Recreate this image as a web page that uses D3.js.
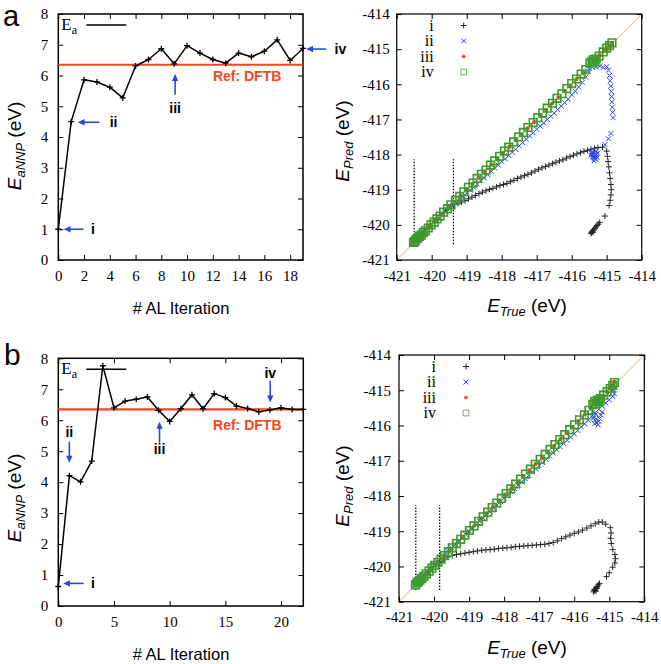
<!DOCTYPE html>
<html><head><meta charset="utf-8">
<script src="https://cdn.jsdelivr.net/npm/d3@7"></script>
<style>body{margin:0;background:#fff}</style>
</head><body><svg id="c" width="661" height="664" xmlns="http://www.w3.org/2000/svg"></svg>
<script>
// ---------------- DATA ----------------
const iterA = [0,1,2,3,4,5,6,7,8,9,10,11,12,13,14,15,16,17,18,19];
const eaA   = [1.0,4.5,5.86,5.79,5.62,5.27,6.31,6.52,6.87,6.38,6.97,6.73,6.52,6.4,6.73,6.61,6.79,7.16,6.49,6.88];
const iterB = [0,1,2,3,4,5,6,7,8,9,10,11,12,13,14,15,16,17,18,19,20,21,22];
const eaB   = [0.63,4.21,4.01,4.68,7.76,6.4,6.62,6.68,6.75,6.32,5.96,6.37,6.82,6.37,6.86,6.73,6.46,6.38,6.27,6.33,6.4,6.35,6.35];
const refDFTB = 6.35;
const xTicksA = [0,2,4,6,8,10,12,14,16,18];
const xTicksB = [0,5,10,15,20];
const yTicksE = [0,1,2,3,4,5,6,7,8];
const eTicks = [-421,-420,-419,-418,-417,-416,-415,-414];
const legendNames = ['i','ii','iii','iv'];

// annotations in data units: from, to, label position
const annA = [
  {t:'i',   from:[1.96,1.0],  to:[0.41,1.0],  lab:[2.69,1.0]},
  {t:'ii',  from:[3.2,4.48],  to:[1.5,4.48],  lab:[4.29,4.48]},
  {t:'iii', from:[9.07,5.37], to:[9.07,6.05], lab:[9.07,4.95]},
  {t:'iv',  from:[20.8,6.86], to:[19.24,6.86],lab:[21.9,6.86]}
];
const annB = [
  {t:'i',   from:[2.27,0.73], to:[0.42,0.73], lab:[3.11,0.73]},
  {t:'ii',  from:[0.99,5.31], to:[0.99,4.63], lab:[0.99,5.63]},
  {t:'iii', from:[9.09,5.27], to:[9.09,5.95], lab:[9.09,5.08]},
  {t:'iv',  from:[19.03,7.27],to:[19.03,6.57],lab:[19.03,7.53]}
];
const refLabA = [14.66, 5.98];
const refLabB = [16.97, 5.85];

// vertical dotted lines in scatter panels: [x, yLow, yHigh]
const dotsA = [[-420.5,-420.55,-418.13],[-419.38,-420.55,-418.13]];
const dotsB = [[-420.52,-420.67,-418.26],[-419.84,-420.67,-418.26]];

// scatter series, panel a  [E_true, E_pred]
const scA_i = [[-420.50,-420.48],[-420.35,-420.33],[-420.20,-420.19],[-420.05,-420.03],[-419.90,-419.88],[-419.75,-419.74],[-419.60,-419.59],[-419.45,-419.46],
 [-419.35,-419.42],[-419.25,-419.39],[-419.15,-419.35],[-419.05,-419.31],[-418.95,-419.26],[-418.85,-419.21],[-418.75,-419.16],[-418.65,-419.11],[-418.55,-419.07],[-418.45,-419.03],[-418.35,-418.99],[-418.25,-418.96],[-418.15,-418.92],[-418.05,-418.88],[-417.95,-418.85],[-417.85,-418.82],[-417.75,-418.77],[-417.65,-418.73],[-417.55,-418.68],[-417.45,-418.64],[-417.35,-418.60],[-417.25,-418.56],[-417.15,-418.52],[-417.05,-418.47],[-416.95,-418.42],[-416.85,-418.38],[-416.75,-418.34],[-416.65,-418.30],[-416.55,-418.26],[-416.45,-418.22],[-416.35,-418.18],[-416.25,-418.15],[-416.15,-418.10],[-416.05,-418.06],[-415.95,-418.02],[-415.85,-417.98],[-415.75,-417.95],[-415.65,-417.91],[-415.55,-417.88],[-415.45,-417.85],[-415.35,-417.82],[-415.25,-417.80],[-415.12,-417.79],
 [-415.00,-417.90],[-414.98,-418.05],[-414.96,-418.20],[-414.94,-418.35],[-414.92,-418.52],[-414.90,-418.68],[-414.88,-418.85],[-414.87,-419.00],[-414.88,-419.15],[-414.90,-419.30],[-414.93,-419.45],[-415.05,-419.75],
 [-415.45,-420.24],[-415.42,-420.20],[-415.40,-420.17],[-415.37,-420.14],[-415.34,-420.10],[-415.31,-420.06],[-415.28,-420.02],[-415.24,-419.98],[-415.20,-419.93],[-415.43,-420.22],[-415.39,-420.21]];
const scA_ii = [[-420.50,-420.42],[-420.40,-420.33],[-420.30,-420.24],[-420.20,-420.15],[-420.10,-420.06],[-420.00,-419.97],[-419.90,-419.88],[-419.80,-419.80],[-419.70,-419.71],[-419.60,-419.63],[-419.50,-419.54],[-419.40,-419.46],[-419.30,-419.37],[-419.20,-419.28],[-419.10,-419.19],[-419.00,-419.10],[-418.90,-419.01],[-418.80,-418.93],[-418.70,-418.84],[-418.60,-418.75],[-418.50,-418.66],[-418.40,-418.57],[-418.30,-418.48],[-418.20,-418.38],[-418.10,-418.30],[-418.00,-418.20],[-417.90,-418.12],[-417.80,-418.03],[-417.70,-417.93],[-417.60,-417.85],[-417.50,-417.75],[-417.40,-417.66],[-417.30,-417.56],[-417.20,-417.47],[-417.10,-417.38],[-417.00,-417.28],[-416.90,-417.19],[-416.80,-417.10],[-416.70,-417.00],[-416.60,-416.91],[-416.50,-416.82],[-416.40,-416.72],[-416.30,-416.62],[-416.20,-416.52],[-416.10,-416.42],[-416.00,-416.30],[-415.90,-416.20],[-415.80,-416.08],[-415.70,-415.95],[-415.60,-415.80],[-415.55,-415.62],[-415.50,-415.55],[-415.40,-415.52],[-415.30,-415.50],[-415.20,-415.48],[-415.10,-415.52],[-415.00,-415.50],[-414.95,-415.60],[-414.92,-415.75],[-414.90,-415.90],[-414.88,-416.05],[-414.87,-416.20],[-414.86,-416.35],[-414.85,-416.50],[-414.84,-416.65],[-414.83,-416.80],[-414.82,-416.95],[-414.88,-417.40],[-414.95,-417.55],[-415.05,-417.72],
 [-415.42,-417.92],[-415.38,-418.05],[-415.32,-417.98],[-415.28,-418.08],[-415.35,-418.12],[-415.40,-418.00],[-415.30,-417.90],[-415.36,-418.18],[-415.45,-418.02],[-415.33,-418.04],
 [-415.39,-417.95],[-415.34,-418.01],[-415.29,-418.00],[-415.37,-418.09],[-415.41,-418.07],[-415.31,-418.13],[-415.26,-417.96],[-415.43,-417.97]];
const scA_iii = [[-420.50,-420.49],[-420.38,-420.37],[-420.22,-420.22],[-420.05,-420.04],[-419.88,-419.88],[-419.70,-419.69],[-419.52,-419.52],[-419.35,-419.34],[-419.18,-419.18],[-419.00,-418.99],[-418.83,-418.83],[-418.66,-418.65],[-418.48,-418.48],[-418.30,-418.29],[-418.13,-418.13],[-417.96,-417.95],[-417.78,-417.78],[-417.60,-417.59],[-417.43,-417.43],[-417.26,-417.25],[-417.08,-417.08],[-416.90,-416.89],[-416.73,-416.73],[-416.56,-416.55],[-416.38,-416.38],[-416.20,-416.19],[-416.03,-416.03],[-415.86,-415.85],[-415.68,-415.68],[-415.50,-415.48],[-415.35,-415.34],[-415.20,-415.18],[-415.08,-415.03],[-414.98,-414.95],[-414.90,-414.93],[-414.85,-414.86]];
const scA_iv = [[-420.52,-420.50],[-420.48,-420.47],[-420.45,-420.41],[-420.40,-420.38],[-420.35,-420.33],[-420.30,-420.29],[-420.24,-420.22],[-420.18,-420.17],[-420.10,-420.09],[-420.02,-420.00],[-419.93,-419.92],[-419.85,-419.83],[-419.76,-419.75],[-419.66,-419.64],[-419.55,-419.54],[-419.45,-419.43],[-419.32,-419.30],[-419.20,-419.19],[-419.08,-419.06],[-418.95,-418.93],[-418.82,-418.81],[-418.70,-418.68],[-418.58,-418.56],[-418.45,-418.44],[-418.32,-418.30],[-418.20,-418.18],[-418.06,-418.05],[-417.92,-417.90],[-417.80,-417.79],[-417.66,-417.64],[-417.52,-417.50],[-417.38,-417.37],[-417.25,-417.23],[-417.10,-417.09],[-416.97,-416.95],[-416.83,-416.82],[-416.70,-416.68],[-416.55,-416.54],[-416.42,-416.40],[-416.28,-416.27],[-416.14,-416.12],[-416.00,-415.98],[-415.86,-415.85],[-415.73,-415.71],[-415.60,-415.58],[-415.48,-415.40],[-415.42,-415.35],[-415.38,-415.30],[-415.34,-415.36],[-415.30,-415.28],[-415.22,-415.20],[-415.10,-415.08],[-415.00,-414.97],[-414.92,-414.90],[-414.85,-414.82]];

// scatter series, panel b
const scB_i = [[-420.50,-420.48],[-420.38,-420.36],[-420.26,-420.25],[-420.14,-420.13],[-420.02,-420.01],[-419.92,-419.91],
 [-419.84,-419.86],[-419.72,-419.79],[-419.60,-419.73],[-419.48,-419.69],[-419.36,-419.66],[-419.24,-419.64],[-419.12,-419.62],[-419.00,-419.60],[-418.88,-419.58],[-418.76,-419.56],[-418.64,-419.54],[-418.52,-419.53],[-418.40,-419.52],[-418.28,-419.51],[-418.16,-419.49],[-418.04,-419.48],[-417.92,-419.47],[-417.80,-419.46],[-417.68,-419.44],[-417.56,-419.43],[-417.44,-419.42],[-417.32,-419.41],[-417.20,-419.40],[-417.08,-419.39],[-416.96,-419.38],[-416.84,-419.37],[-416.72,-419.35],[-416.60,-419.32],[-416.48,-419.27],[-416.36,-419.21],[-416.24,-419.16],[-416.12,-419.11],[-416.00,-419.06],[-415.88,-419.02],[-415.76,-418.97],[-415.64,-418.91],[-415.52,-418.85],[-415.40,-418.79],[-415.30,-418.74],[-415.20,-418.74],[-415.10,-418.80],
 [-414.97,-418.90],[-414.95,-419.05],[-414.96,-419.20],[-414.94,-419.35],[-414.90,-419.52],[-414.84,-419.66],[-414.82,-419.78],[-414.84,-419.90],[-414.90,-420.02],[-415.00,-420.18],[-415.08,-420.29],
 [-415.45,-420.72],[-415.42,-420.68],[-415.40,-420.64],[-415.37,-420.60],[-415.34,-420.57],[-415.31,-420.52],[-415.28,-420.48],[-415.43,-420.66],[-415.38,-420.70],[-415.35,-420.62]];
const scB_ii = [[-420.50,-420.44],[-420.40,-420.34],[-420.30,-420.24],[-420.20,-420.15],[-420.10,-420.05],[-420.00,-419.96],[-419.90,-419.87],[-419.80,-419.78],[-419.70,-419.68],[-419.60,-419.57],[-419.50,-419.47],[-419.40,-419.37],[-419.30,-419.28],[-419.20,-419.18],[-419.10,-419.09],[-419.00,-418.99],[-418.90,-418.91],[-418.80,-418.82],[-418.70,-418.72],[-418.60,-418.63],[-418.50,-418.54],[-418.40,-418.45],[-418.30,-418.35],[-418.20,-418.26],[-418.10,-418.16],[-418.00,-418.06],[-417.90,-417.97],[-417.80,-417.88],[-417.70,-417.79],[-417.60,-417.69],[-417.50,-417.60],[-417.40,-417.51],[-417.30,-417.42],[-417.20,-417.32],[-417.10,-417.23],[-417.00,-417.14],[-416.90,-417.05],[-416.80,-416.96],[-416.70,-416.87],[-416.60,-416.78],[-416.50,-416.69],[-416.40,-416.60],[-416.30,-416.51],[-416.20,-416.42],[-416.10,-416.33],[-416.00,-416.24],[-415.90,-416.14],[-415.80,-416.04],[-415.70,-415.95],[-415.60,-415.85],[-415.50,-415.74],[-415.40,-415.64],[-415.30,-415.54],[-415.20,-415.45],[-415.10,-415.36],[-415.00,-415.27],[-414.90,-415.18],[-414.85,-415.10],[-415.05,-415.12],[-414.95,-415.02],[-414.88,-414.98],
 [-415.48,-415.62],[-415.44,-415.75],[-415.40,-415.85],[-415.36,-415.92],[-415.32,-415.98],[-415.28,-415.80],[-415.24,-415.70],[-415.38,-415.68],[-415.42,-415.95],[-415.30,-415.88],[-415.20,-415.62],[-415.46,-415.80]];
const scB_iii = [[-420.52,-420.51],[-420.40,-420.39],[-420.24,-420.23],[-420.07,-420.07],[-419.90,-419.89],[-419.72,-419.72],[-419.55,-419.54],[-419.37,-419.37],[-419.20,-419.19],[-419.02,-419.02],[-418.85,-418.84],[-418.67,-418.67],[-418.50,-418.49],[-418.32,-418.32],[-418.15,-418.14],[-417.97,-417.97],[-417.80,-417.79],[-417.62,-417.62],[-417.45,-417.44],[-417.27,-417.27],[-417.10,-417.09],[-416.92,-416.92],[-416.75,-416.74],[-416.57,-416.57],[-416.40,-416.39],[-416.22,-416.22],[-416.05,-416.04],[-415.87,-415.87],[-415.70,-415.69],[-415.52,-415.51],[-415.36,-415.34],[-415.20,-415.19],[-415.06,-415.04],[-414.95,-414.92],[-414.88,-414.82],[-414.85,-414.76]];
const scB_iv = [[-420.53,-420.52],[-420.49,-420.47],[-420.45,-420.43],[-420.40,-420.39],[-420.35,-420.34],[-420.29,-420.28],[-420.22,-420.21],[-420.14,-420.13],[-420.06,-420.05],[-419.98,-419.97],[-419.89,-419.88],[-419.80,-419.79],[-419.70,-419.69],[-419.59,-419.58],[-419.48,-419.47],[-419.36,-419.35],[-419.24,-419.23],[-419.12,-419.11],[-418.99,-418.98],[-418.86,-418.85],[-418.73,-418.72],[-418.60,-418.59],[-418.47,-418.46],[-418.34,-418.33],[-418.21,-418.20],[-418.08,-418.07],[-417.94,-417.93],[-417.81,-417.80],[-417.67,-417.66],[-417.53,-417.52],[-417.39,-417.38],[-417.25,-417.24],[-417.11,-417.10],[-416.97,-416.96],[-416.83,-416.82],[-416.69,-416.68],[-416.55,-416.54],[-416.41,-416.40],[-416.27,-416.26],[-416.13,-416.12],[-415.99,-415.98],[-415.85,-415.84],[-415.71,-415.70],[-415.58,-415.57],[-415.47,-415.40],[-415.42,-415.32],[-415.38,-415.38],[-415.34,-415.28],[-415.30,-415.33],[-415.25,-415.24],[-415.16,-415.14],[-415.06,-415.04],[-414.97,-414.95],[-414.90,-414.86],[-414.85,-414.78]];

// ---------------- DRAW ----------------
const svg = d3.select('#c');
const SERIF = "'Liberation Serif','Times New Roman',serif";
const SANS = "'Liberation Sans',Arial,Helvetica,sans-serif";
const BLUE = '#2a48e6';
const RED = '#f2471f';
const GREEN = '#3a9a2c';

function frameAxes(g, x, y, p, fmt, lw) {
  const xt = p.xTicks, yt = p.yTicks;
  const style = s => { s.select('.domain').remove(); s.selectAll('line').attr('stroke','#000').attr('stroke-width',1);
    s.selectAll('text').attr('font-family',SERIF).attr('font-size',15).attr('fill','#000'); };
  g.append('g').attr('transform',`translate(0,${p.bottom})`)
    .call(d3.axisBottom(x).tickValues(xt).tickSize(-5).tickPadding(p.xPad).tickFormat(fmt)).call(style);
  g.append('g').attr('transform',`translate(0,${p.top})`)
    .call(d3.axisTop(x).tickValues(xt).tickSize(-5).tickFormat('')).call(style);
  g.append('g').attr('transform',`translate(${p.left},0)`)
    .call(d3.axisLeft(y).tickValues(yt).tickSize(-5).tickPadding(p.yPad).tickFormat(fmt)).call(style);
  g.append('g').attr('transform',`translate(${p.right},0)`)
    .call(d3.axisRight(y).tickValues(yt).tickSize(-5).tickFormat('')).call(style);
  g.append('rect').attr('x',p.left).attr('y',p.top).attr('width',p.right-p.left).attr('height',p.bottom-p.top)
    .attr('fill','none').attr('stroke','#000').attr('stroke-width',lw);
}

function arrow(g, x1, y1, x2, y2) {
  const dx = x2-x1, dy = y2-y1, L = Math.hypot(dx,dy), ux = dx/L, uy = dy/L;
  const hl = 7, hw = 3.2;
  g.append('line').attr('x1',x1).attr('y1',y1).attr('x2',x2-ux*hl*0.8).attr('y2',y2-uy*hl*0.8)
    .attr('stroke',BLUE).attr('stroke-width',1.6);
  const bx = x2-ux*hl, by = y2-uy*hl;
  g.append('path').attr('d',`M${x2},${y2}L${bx-uy*hw},${by+ux*hw}L${bx+uy*hw},${by-ux*hw}Z`).attr('fill',BLUE);
}

function linePanel(p) {
  const g = svg.append('g');
  const x = d3.scaleLinear().domain(p.xDomain).range([p.left, p.right]);
  const y = d3.scaleLinear().domain([0,8]).range([p.bottom, p.top]);
  frameAxes(g, x, y, p, d => String(d), 1.5);
  g.append('line').attr('x1',p.left).attr('x2',p.right).attr('y1',y(refDFTB)).attr('y2',y(refDFTB))
    .attr('stroke',RED).attr('stroke-width',2.2);
  g.append('text').attr('x',x(p.refLab[0])).attr('y',y(p.refLab[1])).attr('dy','0.36em').attr('text-anchor','middle')
    .attr('font-family',SANS).attr('font-weight','bold').attr('font-size',14).attr('fill',RED).text('Ref: DFTB');
  const pts = p.iter.map((d,i) => [d, p.ea[i]]);
  g.append('path').datum(pts).attr('d', d3.line().x(d=>x(d[0])).y(d=>y(d[1])))
    .attr('fill','none').attr('stroke','#000').attr('stroke-width',1.5).attr('stroke-linejoin','round');
  g.selectAll(null).data(pts).join('path').attr('transform', d=>`translate(${x(d[0])},${y(d[1])})`)
    .attr('d','M-3,0H3M0,-3V3').attr('stroke','#000').attr('stroke-width',1.3);
  // legend E_a
  const lt = g.append('text').attr('x',p.left+3).attr('y',p.top+16).attr('font-family',SERIF).attr('font-size',17);
  lt.append('tspan').text('E');
  lt.append('tspan').attr('font-size',12).attr('dy',4).text('a');
  g.append('line').attr('x1',p.left+28).attr('x2',p.left+68).attr('y1',p.top+11).attr('y2',p.top+11)
    .attr('stroke','#000').attr('stroke-width',1.5);
  // annotations
  p.ann.forEach(a => {
    arrow(g, x(a.from[0]), y(a.from[1]), x(a.to[0]), y(a.to[1]));
    g.append('text').attr('x',x(a.lab[0])).attr('y',y(a.lab[1])).attr('dy','0.36em').attr('text-anchor','middle')
      .attr('font-family',SANS).attr('font-weight','bold').attr('font-size',14).text(a.t);
  });
  // axis titles
  g.append('text').attr('x',181).attr('y',p.bottom+54).attr('text-anchor','middle')
    .attr('font-family',SANS).attr('font-size',16.5).text('# AL Iteration');
  const yl = g.append('text').attr('transform',`translate(21,${p.yLabC}) rotate(-90)`).attr('text-anchor','middle')
    .attr('font-family',SANS).attr('font-size',19);
  yl.append('tspan').attr('font-style','italic').text('E');
  yl.append('tspan').attr('font-style','italic').attr('font-size',13).attr('dy',4).text('aNNP');
  yl.append('tspan').attr('dy',-4).text(' (eV)');
  g.append('text').attr('x',p.letter[0]).attr('y',p.letter[1]).attr('font-family',SANS).attr('font-size',p.letter[2]).text(p.letterT);
}

const sym = {
  i:   'M-3,0H3M0,-3V3',
  ii:  'M-2.5,-2.5L2.5,2.5M-2.5,2.5L2.5,-2.5',
  iii: 'M-2,0H2M0,-2V2M-1.5,-1.5L1.5,1.5M-1.5,1.5L1.5,-1.5',
  iv:  'M-3.8,-3.8H3.8V3.8H-3.8Z'
};
const symColor = {i:'#222', ii:BLUE, iii:RED, iv:GREEN};

function scatterPanel(p) {
  const g = svg.append('g');
  const x = d3.scaleLinear().domain([-421,-414]).range([p.left, p.right]);
  const y = d3.scaleLinear().domain([-421,-414]).range([p.bottom, p.top]);
  g.append('line').attr('x1',x(-421)).attr('y1',y(-421)).attr('x2',x(-414)).attr('y2',y(-414))
    .attr('stroke','#f0a488').attr('stroke-width',1);
  frameAxes(g, x, y, p, d => String(d), 1.2);
  p.dots.forEach(d => g.append('line').attr('x1',x(d[0])).attr('x2',x(d[0])).attr('y1',y(d[1])).attr('y2',y(d[2]))
    .attr('stroke','#000').attr('stroke-width',1.2).attr('stroke-dasharray','1.5,1.5'));
  const series = [['i',p.s[0]],['ii',p.s[1]],['iii',p.s[2]],['iv',p.s[3]]];
  series.forEach(([k,data]) => {
    g.selectAll(null).data(data).join('path').attr('transform',d=>`translate(${x(d[0])},${y(d[1])})`)
      .attr('d',sym[k]).attr('fill','none').attr('stroke',symColor[k])
      .attr('stroke-width', k==='iv'?1.6:(k==='iii'?1.2:1));
  });
  // legend
  legendNames.forEach((n,i) => {
    const cy = p.top + 11.5 + i*15.5;
    g.append('text').attr('x',p.left+37).attr('y',cy).attr('dy','0.33em').attr('text-anchor','end')
      .attr('font-family',SERIF).attr('font-size',16).text(n);
    g.append('path').attr('transform',`translate(${p.left+67},${cy}) scale(${n==='iv'?0.75:1})`).attr('d',sym[n]).attr('fill','none')
      .attr('stroke',symColor[n]).attr('stroke-width',1);
  });
  const xl = g.append('text').attr('x',527).attr('y',p.bottom+52).attr('text-anchor','middle')
    .attr('font-family',SANS).attr('font-size',19);
  xl.append('tspan').attr('font-style','italic').text('E');
  xl.append('tspan').attr('font-style','italic').attr('font-size',13).attr('dy',4).text('True');
  xl.append('tspan').attr('dy',-4).text(' (eV)');
  const yl = g.append('text').attr('transform',`translate(349,${p.yLabC}) rotate(-90)`).attr('text-anchor','middle')
    .attr('font-family',SANS).attr('font-size',19);
  yl.append('tspan').attr('font-style','italic').text('E');
  yl.append('tspan').attr('font-style','italic').attr('font-size',13).attr('dy',4).text('Pred');
  yl.append('tspan').attr('dy',-4).text(' (eV)');
}

linePanel({left:58.3,right:303,top:14,bottom:260,xDomain:[0,19],xTicks:xTicksA,yTicks:yTicksE,xPad:10,yPad:10,
  iter:iterA,ea:eaA,ann:annA,refLab:refLabA,yLabC:146,letter:[3,26,29],letterT:'a'});
linePanel({left:58.3,right:303.3,top:358.3,bottom:606,xDomain:[0,22],xTicks:xTicksB,yTicks:yTicksE,xPad:10,yPad:10,
  iter:iterB,ea:eaB,ann:annB,refLab:refLabB,yLabC:498,letter:[4,365,30],letterT:'b'});
scatterPanel({left:396.7,right:641.7,top:14,bottom:260,xTicks:eTicks,yTicks:eTicks,xPad:10,yPad:7,
  dots:dotsA,s:[scA_i,scA_ii,scA_iii,scA_iv],yLabC:141});
scatterPanel({left:399,right:644.3,top:355,bottom:601.7,xTicks:eTicks,yTicks:eTicks,xPad:10,yPad:8,
  dots:dotsB,s:[scB_i,scB_ii,scB_iii,scB_iv],yLabC:486});
</script></body></html>
